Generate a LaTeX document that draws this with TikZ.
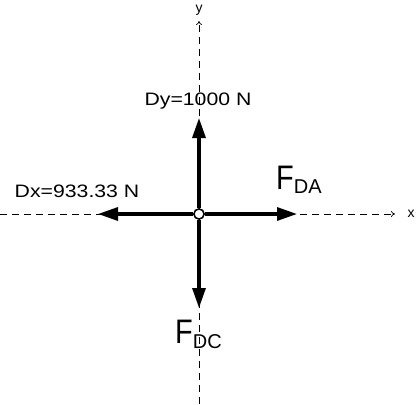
\documentclass[tikz,border=0pt]{standalone}
\usepackage{fontspec}
\setmainfont{Liberation Sans}
\usetikzlibrary{arrows.meta,positioning}
\newcommand{\wide}[1]{\scalebox{1.18}[1]{#1}}
\tikzset{
  axisline/.style={dashed,dash pattern=on 7pt off 5pt,line width=0.7pt,-{To[length=4pt,width=6pt]}},
  forcearrow/.style={line width=3.2pt,-{Triangle[length=20pt,width=13pt]}},
  forcelabel/.style={font=\fontsize{18}{20}\selectfont,inner sep=0pt},
  axislabel/.style={font=\fontsize{14}{16}\selectfont,inner sep=0pt},
  pinjoint/.style={circle,draw,line width=1.4pt,fill=white,minimum size=10pt,inner sep=0pt}
}

\begin{document}
\begin{tikzpicture}[x=1pt,y=-1pt]
  \useasboundingbox (0,0) rectangle (417,404);
  % axes
  \coordinate (xL) at (0,214);
  \coordinate (xR) at (395,214);
  \coordinate (yB) at (199,404);
  \coordinate (yT) at (199,21);
  \node[axislabel] (xlab) at (411,214) {x};
  \node[axislabel] (ylab) at (199,10) {y};
  \draw[axisline] (xL) -- (xR);
  \draw[axisline] (yB) -- (yT);
  % forces
  \node[pinjoint] (D) at (199,214) {};
  \coordinate (dyTip) at (199,118);
  \coordinate (dxTip) at (98,214);
  \coordinate (daTip) at (297,214);
  \coordinate (dcTip) at (199,308);
  \draw[forcearrow] (D) -- (dyTip);
  \draw[forcearrow] (D) -- (dxTip);
  \draw[forcearrow] (D) -- (daTip);
  \draw[forcearrow] (D) -- (dcTip);
  \node[pinjoint] at (D) {};
  % labels
  \node[forcelabel] (dylab) at (198,101) {\wide{Dy=1000 N}};
  \node[forcelabel] (dxlab) at (77,191) {\wide{Dx=933.33 N}};
  \node[forcelabel,anchor=base west] (dalab) at (276,189)
    {\fontsize{34}{36}\selectfont\scalebox{0.85}[1]{F}\raisebox{-4pt}{\fontsize{20}{22}\selectfont DA}};
  \node[forcelabel,anchor=base west] (dclab) at (175,343)
    {\fontsize{34}{36}\selectfont\scalebox{0.85}[1]{F}\raisebox{-5pt}{\fontsize{20}{22}\selectfont DC}};
\end{tikzpicture}
\end{document}
